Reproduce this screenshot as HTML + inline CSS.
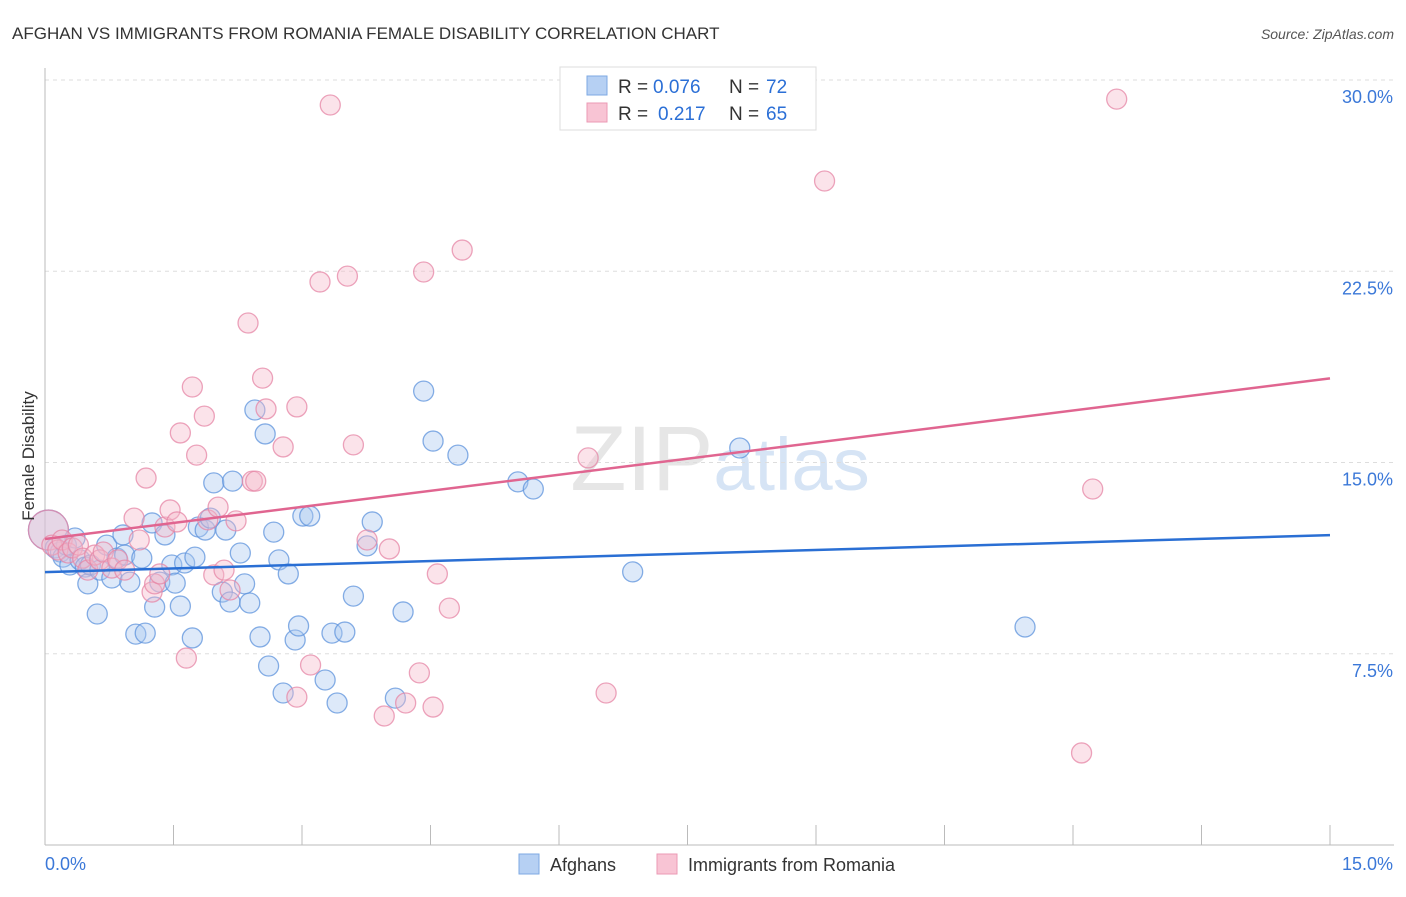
<!DOCTYPE html>
<html><head><meta charset="utf-8"><style>
body{margin:0;background:#fff;font-family:"Liberation Sans",sans-serif;}
svg text{font-family:"Liberation Sans",sans-serif;}
</style></head><body>
<svg id="chart" width="1406" height="892" viewBox="0 0 1406 892" xmlns="http://www.w3.org/2000/svg">
<text x="12" y="39" font-size="17" fill="#333">AFGHAN VS IMMIGRANTS FROM ROMANIA FEMALE DISABILITY CORRELATION CHART</text>
<text x="1394" y="39" font-size="14" fill="#555" text-anchor="end" font-style="italic">Source: ZipAtlas.com</text>
<text x="720" y="490" font-size="92" text-anchor="middle" fill="#e6e6e6" font-family="Liberation Serif"><tspan>ZIP</tspan><tspan fill="#d6e4f5" font-family="Liberation Sans" font-size="74">atlas</tspan></text>
<g id="grid"></g>
<g id="axes"></g>
<g id="marks"></g>
<g id="trends"></g>
<text transform="translate(34,456) rotate(-90)" font-size="17" fill="#333" text-anchor="middle">Female Disability</text>
<g>
<rect x="560" y="67" width="256" height="63" fill="#fff" stroke="#ddd"/>
<rect x="587" y="76" width="20" height="19" fill="#b6d0f3" stroke="#7ea9e3"/>
<rect x="587" y="103" width="20" height="19" fill="#f8c4d4" stroke="#eb9ab4"/>
<text x="618" y="93" font-size="19" fill="#333">R =</text>
<text x="653" y="93" font-size="19" fill="#2b6fd6">0.076</text>
<text x="729" y="93" font-size="19" fill="#333">N =</text>
<text x="766" y="93" font-size="19" fill="#2b6fd6">72</text>
<text x="618" y="120" font-size="19" fill="#333">R =</text>
<text x="658" y="120" font-size="19" fill="#2b6fd6">0.217</text>
<text x="729" y="120" font-size="19" fill="#333">N =</text>
<text x="766" y="120" font-size="19" fill="#2b6fd6">65</text>
</g>
<g>
<rect x="519" y="854" width="20" height="20" fill="#b6d0f3" stroke="#7ea9e3"/>
<text x="550" y="871" font-size="18" fill="#333">Afghans</text>
<rect x="657" y="854" width="20" height="20" fill="#f8c4d4" stroke="#eb9ab4"/>
<text x="688" y="871" font-size="18" fill="#333">Immigrants from Romania</text>
</g>
</svg>
<script>
const xTicks=[0,1.5,3,4.5,6,7.5,9,10.5,12,13.5,15];
const yTicks=[7.5,15,22.5,30];
const yTickLabels=["7.5%","15.0%","22.5%","30.0%"];
const afghanX=[0.04,0.12,0.18,0.21,0.25,0.29,0.35,0.41,0.47,0.50,0.53,0.61,0.64,0.72,0.78,0.84,0.91,0.93,0.99,1.06,1.13,1.17,1.25,1.28,1.34,1.40,1.48,1.52,1.58,1.63,1.72,1.75,1.79,1.87,1.93,1.97,2.07,2.11,2.16,2.19,2.28,2.33,2.39,2.45,2.51,2.57,2.61,2.67,2.73,2.78,2.84,2.92,2.96,3.01,3.09,3.27,3.35,3.41,3.50,3.60,3.76,3.82,4.09,4.18,4.42,4.53,4.82,5.52,5.70,6.86,8.11,11.44];
const afghanY=[12.35,11.65,11.49,11.29,11.76,10.98,12.04,11.18,10.90,10.24,10.98,9.06,10.78,11.76,10.47,11.25,12.16,11.37,10.31,8.27,11.25,8.31,12.63,9.33,10.31,12.16,10.98,10.27,9.37,11.06,8.12,11.29,12.47,12.35,12.82,14.20,9.92,12.35,9.53,14.27,11.45,10.24,9.49,17.06,8.16,16.12,7.02,12.27,11.18,5.96,10.63,8.04,8.59,12.90,12.90,6.47,8.31,5.57,8.35,9.76,11.73,12.67,5.76,9.14,17.80,15.84,15.29,14.24,13.96,10.71,15.57,8.55];
const romX=[0.04,0.08,0.15,0.20,0.27,0.32,0.39,0.44,0.50,0.58,0.64,0.68,0.78,0.85,0.93,1.04,1.10,1.18,1.25,1.28,1.34,1.40,1.46,1.54,1.58,1.65,1.72,1.77,1.86,1.90,1.97,2.02,2.09,2.16,2.23,2.37,2.42,2.46,2.54,2.58,2.78,2.94,2.94,3.10,3.21,3.33,3.53,3.60,3.76,3.96,4.02,4.21,4.37,4.42,4.53,4.58,4.72,4.87,6.34,6.55,9.10,12.10,12.23,12.51];
const romY=[12.35,11.76,11.57,11.96,11.45,11.65,11.76,11.25,10.78,11.37,11.18,11.49,10.86,11.18,10.78,12.82,11.96,14.39,9.92,10.24,10.63,12.47,13.14,12.67,16.16,7.33,17.96,15.29,16.82,12.75,10.59,13.25,10.78,10.00,12.71,20.47,14.27,14.27,18.31,17.10,15.61,5.80,17.18,7.06,22.08,29.02,22.31,15.69,11.96,5.06,11.61,5.57,6.75,22.47,5.41,10.63,9.29,23.33,15.18,5.96,26.04,3.61,13.96,29.25];
const afghanTrend=[10.7,12.15];
const romTrend=[12.0,18.3];
const NS='http://www.w3.org/2000/svg';
const X0=45,X1=1330,Y0=845,Y30=80;
const sx=v=>X0+(v/15)*(X1-X0);
const sy=v=>Y0-(v/30)*(Y0-Y30);
function mk(tag,attrs,parent){const e=document.createElementNS(NS,tag);for(const k in attrs)e.setAttribute(k,attrs[k]);document.getElementById(parent).appendChild(e);return e;}
yTicks.forEach((t,i)=>{
 const l=mk('line',{x1:X0,x2:1394,y1:sy(t),y2:sy(t),stroke:'#ddd','stroke-dasharray':'4,4'},'grid');
 
 
 const tx=mk('text',{x:1393,y:sy(t)+23,'font-size':18,fill:'#3b78d8','text-anchor':'end'},'grid');
 tx.textContent=yTickLabels[i];
 
 
});
const ax=mk('line',{x1:X0,x2:X0,y1:68,y2:Y0,stroke:'#bbb'},'axes');


const bx=mk('line',{x1:X0,x2:1394,y1:Y0,y2:Y0,stroke:'#bbb'},'axes');


xTicks.forEach(t=>{
 const l=mk('line',{x1:sx(t),x2:sx(t),y1:Y0-20,y2:Y0,stroke:'#bbb'},'axes');
 
 
});
const xl0=mk('text',{x:45,y:870,'font-size':18,fill:'#3b78d8'},'axes');xl0.textContent='0.0%';


const xl1=mk('text',{x:1393,y:870,'font-size':18,fill:'#3b78d8','text-anchor':'end'},'axes');xl1.textContent='15.0%';


function dots(xs,ys,fill,stroke,name){
 xs.forEach((x,i)=>{
  const c=mk('circle',{cx:sx(x),cy:sy(ys[i]),r:i===0?20:10,fill:fill,'fill-opacity':0.4,stroke:stroke,'stroke-width':1.3,'stroke-opacity':0.75},'marks');
  
  
 });
}
dots(afghanX,afghanY,'#a9c8f0','#5e93dc','afghan-point');
dots(romX,romY,'#f5b8cb','#e585a5','romania-point');
const t1=mk('line',{x1:sx(0),x2:sx(15),y1:sy(afghanTrend[0]),y2:sy(afghanTrend[1]),stroke:'#2a6fd4','stroke-width':2.5},'trends');


const t2=mk('line',{x1:sx(0),x2:sx(15),y1:sy(romTrend[0]),y2:sy(romTrend[1]),stroke:'#e06590','stroke-width':2.5},'trends');


</script>
</body></html>
